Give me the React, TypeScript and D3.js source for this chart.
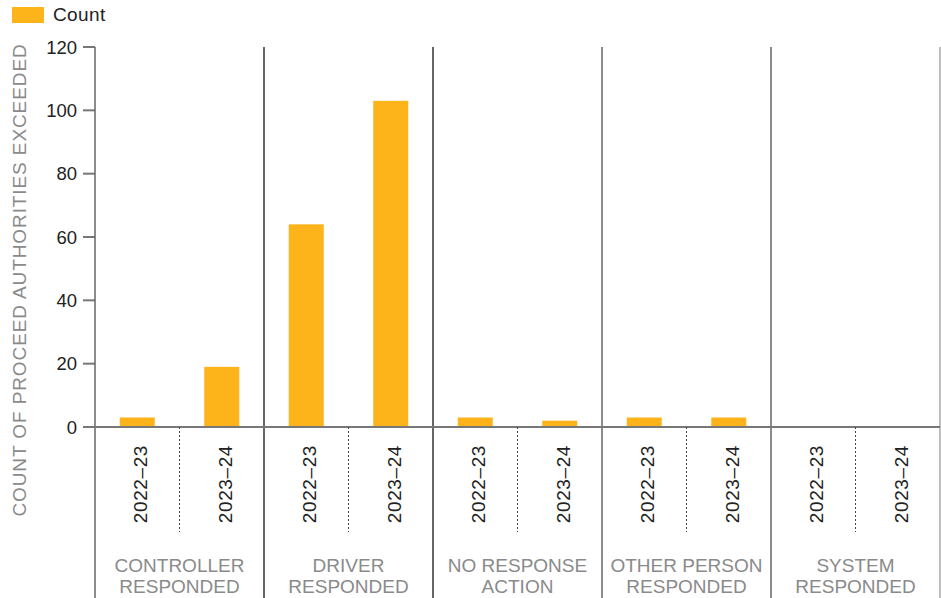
import React from "react";
import * as d3 from "d3";

const categories = ["Controller responded", "Driver responded", "No response action", "Other person responded", "System responded"];
const categoryLines = [
  ["CONTROLLER", "RESPONDED"],
  ["DRIVER", "RESPONDED"],
  ["NO RESPONSE", "ACTION"],
  ["OTHER PERSON", "RESPONDED"],
  ["SYSTEM", "RESPONDED"],
];
const years = ["2022–23", "2023–24"];
const counts2022 = [3, 64, 3, 3, 0];
const counts2023 = [19, 103, 2, 3, 0];
const yTicks = [0, 20, 40, 60, 80, 100, 120];
const legendLabel = "Count";
const yTitle = "COUNT OF PROCEED AUTHORITIES EXCEEDED";

const W = 941;
const H = 598;
const left = 95;
const right = 940;
const top = 47;
const zeroY = 427;
const BAR = "#FDB31A";
const FONT = "'Liberation Sans', Arial, Helvetica, sans-serif";

export default function App() {
  const x = d3.scaleBand<string>().domain(categories).range([left, right]).padding(0);
  const xi = d3.scaleBand<string>().domain(years).range([0, x.bandwidth()]).padding(0);
  const y = d3.scaleLinear().domain([0, 120]).range([zeroY, top]);
  const barW = 35;
  const series = [counts2022, counts2023];

  return (
    <svg width={W} height={H} style={{ position: "absolute", left: 0, top: 0, fontFamily: FONT }}>
      <rect x={0} y={0} width={W} height={H} fill="#fff" />
      {/* legend */}
      <rect x={12} y={7} width={32} height={16} fill={BAR} />
      <text x={53} y={21} fontSize={19} letterSpacing={0.4} fill="#222">{legendLabel}</text>

      {/* y title */}
      <text
        transform={`translate(26,280) rotate(-90)`}
        textAnchor="middle"
        fontSize={19}
        letterSpacing={0.9}
        fill="#8a8a8a"
      >
        {yTitle}
      </text>

      {/* y ticks */}
      {yTicks.map((t) => (
        <g key={t}>
          <line x1={83} x2={left} y1={y(t)} y2={y(t)} stroke="#777" strokeWidth={2} />
          <text x={77} y={y(t) + 6.5} textAnchor="end" fontSize={18.5} fill="#222">{t}</text>
        </g>
      ))}

      {/* bars */}
      {categories.map((c, ci) =>
        years.map((yr, yi) => {
          const v = series[yi][ci];
          const cx = (x(c) as number) + (xi(yr) as number) + xi.bandwidth() / 2;
          return (
            <rect
              key={c + yr}
              x={cx - barW / 2}
              y={y(v)}
              width={barW}
              height={zeroY - y(v)}
              fill={BAR}
            />
          );
        })
      )}

      {/* group separators */}
      {categories.map((c, ci) => (
        <line
          key={"sep" + c}
          x1={x(c) as number}
          x2={x(c) as number}
          y1={top}
          y2={H}
          stroke={ci === 0 ? "#666" : ci < 3 ? "#333" : "#666"}
          strokeWidth={1.5}
        />
      ))}
      <line x1={right} x2={right} y1={top} y2={H} stroke="#aaa" strokeWidth={1.5} />

      {/* zero line */}
      <line x1={83} x2={right} y1={zeroY} y2={zeroY} stroke="#777" strokeWidth={2} />

      {/* dotted mid separators */}
      {categories.map((c) => {
        const mx = (x(c) as number) + x.bandwidth() / 2;
        return (
          <line key={"dot" + c} x1={mx} x2={mx} y1={zeroY} y2={532} stroke="#444" strokeWidth={1} strokeDasharray="2,2" />
        );
      })}

      {/* year labels */}
      {categories.map((c) =>
        years.map((yr) => {
          const cx = (x(c) as number) + (xi(yr) as number) + xi.bandwidth() / 2;
          return (
            <text
              key={"yl" + c + yr}
              transform={`translate(${cx + 10},${445}) rotate(-90)`}
              textAnchor="end"
              fontSize={19}
              letterSpacing={0.6}
              fill="#222"
            >
              {yr}
            </text>
          );
        })
      )}

      {/* group labels */}
      {categories.map((c, ci) => {
        const cx = (x(c) as number) + x.bandwidth() / 2;
        return (
          <text key={"gl" + c} x={cx} textAnchor="middle" fontSize={19} fill="#8a8a8a">
            {categoryLines[ci].map((ln, li) => (
              <tspan key={li} x={cx} y={572 + li * 21}>{ln}</tspan>
            ))}
          </text>
        );
      })}
    </svg>
  );
}
